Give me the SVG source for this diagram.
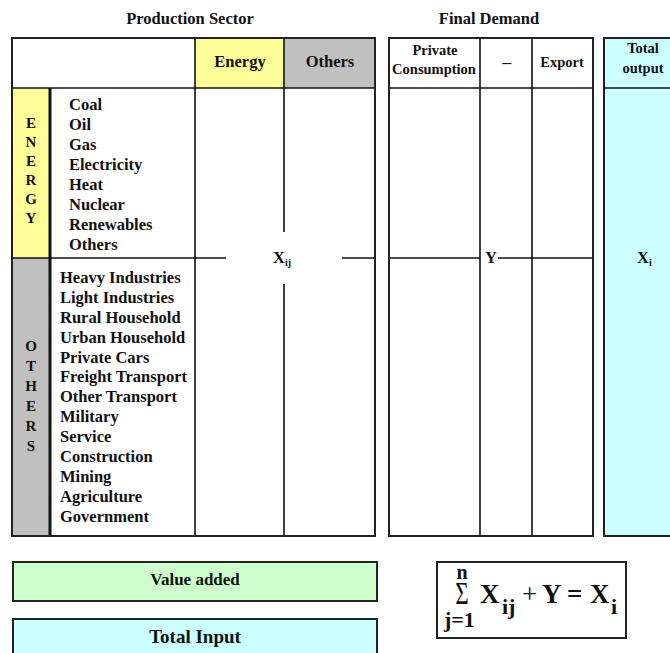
<svg xmlns="http://www.w3.org/2000/svg" width="670" height="653" viewBox="0 0 670 653">
<style>
.t{font-family:"Liberation Serif","Times New Roman",serif;font-weight:bold;font-size:16.5px;fill:#111}
.m{text-anchor:middle}
.s{font-size:14.5px}
.l{font-size:15px}
.sub{font-size:10px}
.f{font-size:27px}
.ln{stroke:#111;stroke-width:1.6;fill:none}
.bx{stroke:#222;stroke-width:2}
.thk{stroke:#111;stroke-width:3}
</style>
<rect width="670" height="653" fill="#fff"/>

<g id="titles">
<text class="t m" x="190" y="24">Production Sector</text>
<text class="t m" x="489" y="24">Final Demand</text>
</g>

<g id="production-sector">
<rect x="195" y="38" width="89" height="50" fill="#ffff99"/>
<rect x="284" y="38" width="91" height="50" fill="#c0c0c0"/>
<rect x="12" y="88" width="37" height="170" fill="#ffff99"/>
<rect x="12" y="258" width="37" height="278" fill="#c0c0c0"/>
<line class="ln" x1="12" y1="88" x2="375" y2="88"/>
<line class="ln" x1="195" y1="38" x2="195" y2="536"/>
<line class="ln" x1="284" y1="38" x2="284" y2="232"/>
<line class="ln" x1="284" y1="284" x2="284" y2="536"/>
<line class="ln" x1="12" y1="258" x2="226" y2="258"/>
<line class="ln" x1="342" y1="258" x2="375" y2="258"/>
<line class="thk" x1="50" y1="88" x2="50" y2="536"/>
<rect class="bx" x="12" y="38" width="363" height="498" fill="none"/>
<text class="t m" x="240" y="67">Energy</text>
<text class="t m" x="330" y="67">Others</text>
<g class="t l m">
<text x="31" y="128">E</text><text x="31" y="147">N</text><text x="31" y="166">E</text>
<text x="31" y="185">R</text><text x="31" y="204">G</text><text x="31" y="223">Y</text>
<text x="31" y="351">O</text><text x="31" y="371">T</text><text x="31" y="391">H</text>
<text x="31" y="411">E</text><text x="31" y="431">R</text><text x="31" y="451">S</text>
</g>
<g class="t">
<text x="69" y="110">Coal</text>
<text x="69" y="130">Oil</text>
<text x="69" y="150">Gas</text>
<text x="69" y="170">Electricity</text>
<text x="69" y="190">Heat</text>
<text x="69" y="210">Nuclear</text>
<text x="69" y="230">Renewables</text>
<text x="69" y="250">Others</text>
<text x="60" y="283">Heavy Industries</text>
<text x="60" y="303">Light Industries</text>
<text x="60" y="323">Rural Household</text>
<text x="60" y="343">Urban Household</text>
<text x="60" y="363">Private Cars</text>
<text x="60" y="382">Freight Transport</text>
<text x="60" y="402">Other Transport</text>
<text x="60" y="422">Military</text>
<text x="60" y="442">Service</text>
<text x="60" y="462">Construction</text>
<text x="60" y="482">Mining</text>
<text x="60" y="502">Agriculture</text>
<text x="60" y="522">Government</text>
</g>
<text class="t" x="273" y="263">X<tspan class="sub" dy="3">ij</tspan></text>
</g>

<g id="final-demand">
<line class="ln" x1="389" y1="88" x2="593" y2="88"/>
<line class="ln" x1="480" y1="38" x2="480" y2="536"/>
<line class="ln" x1="532" y1="38" x2="532" y2="536"/>
<line class="ln" x1="389" y1="258" x2="480" y2="258"/>
<line class="ln" x1="498" y1="258" x2="593" y2="258"/>
<rect class="bx" x="389" y="38" width="204" height="498" fill="none"/>
<text class="t s m" x="435" y="55">Private</text>
<text class="t s m" x="434" y="74">Consumption</text>
<text class="t m" x="506" y="67" style="font-size:13px;letter-spacing:-1.5px">---</text>
<text class="t s m" x="562" y="67">Export</text>
<text class="t" x="485" y="263">Y</text>
</g>

<g id="total-output">
<rect class="bx" x="604" y="38" width="80" height="498" fill="#ccffff"/>
<line class="ln" x1="604" y1="88" x2="670" y2="88"/>
<text class="t s m" x="643" y="53">Total</text>
<text class="t s m" x="643" y="73">output</text>
<text class="t" x="637" y="263">X<tspan class="sub" dy="3">i</tspan></text>
</g>

<g id="value-added">
<rect class="bx" x="13" y="562" width="364" height="39" fill="#ccffcc"/>
<text class="t m" x="195" y="585" style="font-size:17px">Value added</text>
</g>

<g id="total-input">
<rect class="bx" x="13" y="619" width="364" height="45" fill="#ccffff"/>
<text class="t m" x="195" y="643" style="font-size:19px">Total Input</text>
</g>

<g id="formula">
<rect class="bx" x="437" y="562" width="189" height="76" fill="#fff"/>
<text class="t m" x="462" y="579" style="font-size:20px">n</text>
<text class="t m" transform="translate(462,604) scale(1.05,1.4)" style="font-size:22px;font-weight:normal">Σ</text>
<text class="t" x="444" y="627" style="font-size:22px">j=1</text>
<text class="t f" x="480" y="603">X</text>
<text class="t" x="502" y="614" style="font-size:22px">ij</text>
<text class="t" x="522" y="603" style="font-size:27px;font-weight:normal">+</text>
<text class="t f" x="542" y="603">Y</text>
<text class="t f" x="567" y="603">=</text>
<text class="t f" x="590" y="603">X</text>
<text class="t" x="611" y="614" style="font-size:22px">i</text>
</g>
</svg>
